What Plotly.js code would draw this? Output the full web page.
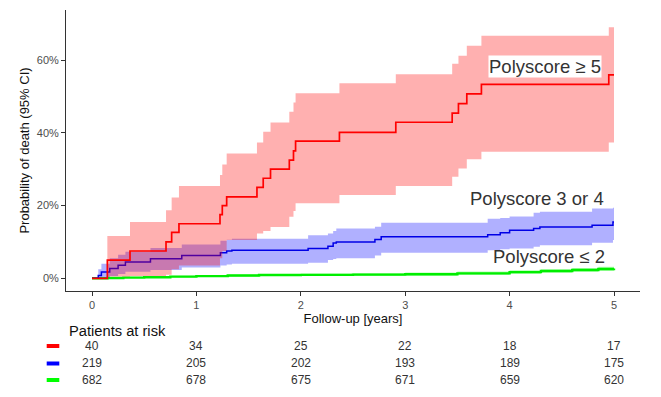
<!DOCTYPE html>
<html>
<head>
<meta charset="utf-8">
<script src="https://cdn.plot.ly/plotly-3.0.1.min.js"></script>
<style>
  html, body { margin: 0; padding: 0; background: #fff; }
  #chart { width: 661px; height: 397px; }
</style>
</head>
<body>
<div id="chart"></div>
<script>
// ---- Data (percent) ----
// Polyscore >= 5 (red)
const redT   = [0, 0.147, 0.364, 0.709, 0.763, 0.833, 1.226, 1.248, 1.29, 1.58, 1.64, 1.71, 1.89, 1.93, 1.95, 2.37, 2.91, 3.45, 3.51, 3.59, 3.73, 4.95, 5.0];
const redEst = [0, 5.0, 7.5, 10.0, 12.6, 15.0, 17.5, 20.0, 22.4, 25.0, 27.5, 30.0, 32.5, 35.0, 37.7, 40.1, 42.9, 45.4, 48.0, 50.7, 53.3, 55.9, 55.9];
const redHi  = [0, 11.6, 15.5, 18.7, 22.2, 25.4, 28.4, 31.3, 34.3, 37.3, 40.3, 42.8, 45.8, 48.3, 50.9, 53.6, 56.1, 59.0, 61.2, 63.9, 66.7, 69.0, 69.0];
const redLo  = [0, 0.5, 0.6, 1.0, 2.5, 3.5, 5.5, 7.5, 10.5, 12.3, 13.0, 14.1, 16.9, 18.5, 20.6, 22.9, 25.4, 27.9, 30.2, 32.7, 34.8, 37.3, 37.3];

// Polyscore 3 or 4 (blue)
const blueT   = [0, 0.06, 0.09, 0.17, 0.25, 0.32, 0.56, 0.86, 1.23, 1.29, 1.34, 2.07, 2.26, 2.31, 2.34, 2.71, 2.77, 3.79, 3.91, 4.0, 4.23, 4.29, 4.79, 4.99, 5.0];
const blueEst = [0, 0.8, 1.7, 2.7, 3.6, 4.5, 5.4, 6.3, 7.0, 7.5, 7.7, 8.2, 8.8, 9.7, 10.0, 10.7, 11.4, 12.0, 12.5, 13.2, 13.7, 14.1, 14.6, 15.5, 15.5];
const blueHi  = [0, 2.5, 4.0, 5.5, 6.5, 7.3, 8.3, 9.3, 10.3, 10.6, 10.9, 11.8, 12.3, 13.0, 13.7, 14.2, 15.3, 16.4, 16.6, 17.0, 18.0, 18.3, 19.2, 19.4, 19.4];
const blueLo  = [0, 0, 0.2, 0.6, 1.2, 1.8, 2.3, 3.0, 3.5, 3.8, 4.0, 4.3, 5.0, 5.3, 5.5, 6.3, 7.0, 7.7, 8.0, 8.2, 8.7, 9.1, 9.8, 10.5, 10.5];

// Polyscore <= 2 (green)
const greenT   = [0, 0.15, 0.3, 0.5, 0.75, 1.0, 1.3, 1.6, 2.0, 2.5, 3.0, 3.5, 4.0, 4.3, 4.6, 4.85, 5.0];
const greenEst = [0, 0.1, 0.2, 0.3, 0.45, 0.6, 0.75, 0.9, 0.95, 1.0, 1.1, 1.35, 1.7, 2.0, 2.3, 2.55, 2.7];
const greenHi  = [0, 0.25, 0.4, 0.55, 0.7, 0.9, 1.05, 1.2, 1.35, 1.45, 1.6, 1.85, 2.2, 2.5, 2.85, 3.15, 3.35];
const greenLo  = [0, 0.0, 0.05, 0.1, 0.2, 0.35, 0.45, 0.6, 0.6, 0.65, 0.7, 0.9, 1.2, 1.5, 1.8, 2.0, 2.1];

// Labels
const groupLabels = ["Polyscore \u2265 5", "Polyscore 3 or 4", "Polyscore \u2264 2"];
const yTickVals = [0, 20, 40, 60];
const yTickText = ["0%", "20%", "40%", "60%"];
const xTickVals = [0, 1, 2, 3, 4, 5];

// Risk table
const riskYears = [0, 1, 2, 3, 4, 5];
const riskHigh = [40, 34, 25, 22, 18, 17];
const riskMid  = [219, 205, 202, 193, 189, 175];
const riskLow  = [682, 678, 675, 671, 659, 620];

// ---- Styling ----
const FONT = "Arial, 'Liberation Sans', sans-serif";
const col = {
  red:   {line: "#FF0000", fill: "rgba(255,0,0,0.31)"},
  blue:  {line: "#0000E6", fill: "rgba(0,0,255,0.31)"},
  green: {line: "#00EE00", fill: "rgba(0,255,0,0.30)"}
};

function band(t, lo, hi, fill) {
  return [
    {x: t, y: lo, type: "scatter", mode: "lines", line: {width: 0, shape: "hv"}, hoverinfo: "skip", showlegend: false},
    {x: t, y: hi, type: "scatter", mode: "lines", line: {width: 0, shape: "hv"}, fill: "tonexty", fillcolor: fill, hoverinfo: "skip", showlegend: false}
  ];
}
function line(t, y, color, w) {
  return {x: t, y: y, type: "scatter", mode: "lines", line: {color: color, width: w, shape: "hv"}, hoverinfo: "skip", showlegend: false};
}

const traces = [].concat(
  band(greenT, greenLo, greenHi, col.green.fill),
  [line(greenT, greenEst, col.green.line, 2.4)],
  band(blueT, blueLo, blueHi, col.blue.fill),
  [line(blueT, blueEst, col.blue.line, 1.5)],
  band(redT, redLo, redHi, col.red.fill),
  [line(redT, redEst, col.red.line, 1.7)]
);

// Plot area geometry (px) for paper-coordinate placement
const PLOT_TOP = 10, PLOT_BOTTOM = 291, PLOT_LEFT = 66, PLOT_RIGHT = 640;
const PH = PLOT_BOTTOM - PLOT_TOP, PW = PLOT_RIGHT - PLOT_LEFT;
const py = (px) => (PLOT_BOTTOM - px) / PH;
const pxp = (px) => (px - PLOT_LEFT) / PW;

const annotations = [
  {x: 4.885, y: 58.35, xref: "x", yref: "y", xanchor: "right", yanchor: "middle", text: groupLabels[0],
   showarrow: false, bgcolor: "#FFFFFF", borderpad: 0, font: {family: FONT, size: 18.5, color: "#333333"}},
  {x: 4.925, y: 22.0, xref: "x", yref: "y", xanchor: "right", yanchor: "middle", text: groupLabels[1],
   showarrow: false, font: {family: FONT, size: 18.5, color: "#333333"}},
  {x: 4.935, y: 5.94, xref: "x", yref: "y", xanchor: "right", yanchor: "middle", text: groupLabels[2],
   showarrow: false, font: {family: FONT, size: 18.5, color: "#333333"}},
  {x: pxp(66.5), y: py(330.5), xref: "paper", yref: "paper", xanchor: "left", yanchor: "middle", text: "Patients at risk",
   showarrow: false, font: {family: FONT, size: 14.7, color: "#111111"}}
];

const rows = [riskHigh, riskMid, riskLow];
const rowY = [346, 363.5, 380];
rows.forEach((r, i) => {
  r.forEach((v, j) => {
    annotations.push({x: riskYears[j], y: py(rowY[i]), xref: "x", yref: "paper", xanchor: "center", yanchor: "middle",
      text: String(v), showarrow: false, font: {family: FONT, size: 12, color: "#333333"}});
  });
});

const dashColors = [col.red.line, "#0000FF", "#00FF00"];
const shapes = rowY.map((yy, i) => ({
  type: "line", xref: "paper", yref: "paper",
  x0: pxp(46.7), x1: pxp(59.3), y0: py(yy), y1: py(yy),
  line: {color: dashColors[i], width: 4}
}));

const layout = {
  width: 661, height: 397,
  margin: {l: PLOT_LEFT, r: 661 - PLOT_RIGHT, t: PLOT_TOP, b: 397 - PLOT_BOTTOM, pad: 0},
  paper_bgcolor: "#FFFFFF", plot_bgcolor: "#FFFFFF",
  font: {family: FONT, color: "#333333"},
  showlegend: false,
  xaxis: {
    range: [-0.249, 5.249], tickmode: "array", tickvals: xTickVals, ticktext: xTickVals.map(String),
    showgrid: false, zeroline: false, showline: true, linecolor: "#333333", linewidth: 1,
    ticks: "outside", ticklen: 4, tickcolor: "#333333", tickwidth: 1,
    tickfont: {family: FONT, size: 11, color: "#4D4D4D"},
    title: {text: "Follow-up [years]", font: {family: FONT, size: 13, color: "#111111"}, standoff: 3}
  },
  yaxis: {
    range: [-3.49, 73.75], tickmode: "array", tickvals: yTickVals, ticktext: yTickText,
    showgrid: false, zeroline: false, showline: true, linecolor: "#333333", linewidth: 1,
    ticks: "outside", ticklen: 4, tickcolor: "#333333", tickwidth: 1,
    tickfont: {family: FONT, size: 11, color: "#4D4D4D"},
    title: {text: "Probability of death (95% CI)", font: {family: FONT, size: 13, color: "#111111"}, standoff: 4}
  },
  annotations: annotations,
  shapes: shapes
};

Plotly.newPlot("chart", traces, layout, {staticPlot: true, displayModeBar: false});
</script>
</body>
</html>
